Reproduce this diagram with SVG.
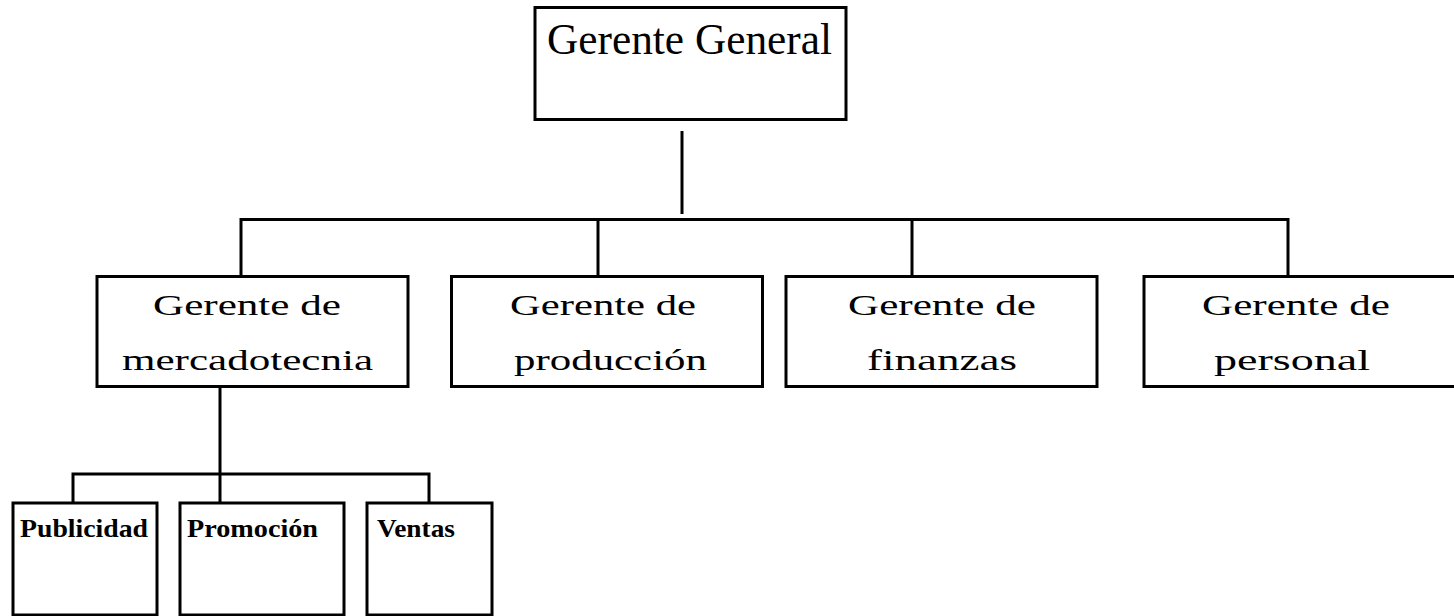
<svg xmlns="http://www.w3.org/2000/svg" width="1454" height="616" viewBox="0 0 1454 616">
<style>
.box{fill:#fff;stroke:#000;stroke-width:3}
.ln{stroke:#000;stroke-width:3;fill:none}
text{font-family:"Liberation Serif","Times New Roman",serif;fill:#000}
.t1{font-size:44px}
.t2{font-size:30px}
.t3{font-size:26px;font-weight:bold}
</style>
<rect width="1454" height="616" fill="#fff"/>
<g id="connectors">
<line class="ln" x1="682" y1="131" x2="682" y2="214"/>
<polyline class="ln" points="241,277 241,219.5 1288,219.5 1288,277"/>
<line class="ln" x1="598" y1="219.5" x2="598" y2="277"/>
<line class="ln" x1="912" y1="219.5" x2="912" y2="277"/>
<line class="ln" x1="220" y1="387" x2="220" y2="503"/>
<polyline class="ln" points="73,503 73,474 429,474 429,503"/>
</g>
<g id="gerente-general">
<rect class="box" x="535" y="7.5" width="311" height="112"/>
<text class="t1" x="547" y="54" textLength="285" lengthAdjust="spacingAndGlyphs">Gerente General</text>
</g>
<g id="gerente-mercadotecnia">
<rect class="box" x="97" y="276.5" width="311" height="110"/>
<text class="t2" x="153" y="315" textLength="188" lengthAdjust="spacingAndGlyphs">Gerente de</text>
<text class="t2" x="122" y="370" textLength="251" lengthAdjust="spacingAndGlyphs">mercadotecnia</text>
</g>
<g id="gerente-produccion">
<rect class="box" x="451.5" y="276.5" width="311" height="110"/>
<text class="t2" x="510" y="315" textLength="186" lengthAdjust="spacingAndGlyphs">Gerente de</text>
<text class="t2" x="514" y="370" textLength="193" lengthAdjust="spacingAndGlyphs">producción</text>
</g>
<g id="gerente-finanzas">
<rect class="box" x="786" y="276.5" width="311" height="110"/>
<text class="t2" x="848" y="315" textLength="188" lengthAdjust="spacingAndGlyphs">Gerente de</text>
<text class="t2" x="867" y="370" textLength="150" lengthAdjust="spacingAndGlyphs">finanzas</text>
</g>
<g id="gerente-personal">
<rect class="box" x="1144" y="276.5" width="320" height="110"/>
<text class="t2" x="1202" y="315" textLength="188" lengthAdjust="spacingAndGlyphs">Gerente de</text>
<text class="t2" x="1214" y="370" textLength="156" lengthAdjust="spacingAndGlyphs">personal</text>
</g>
<g id="publicidad">
<rect class="box" x="13" y="503" width="144" height="112"/>
<text class="t3" x="20" y="537" textLength="128" lengthAdjust="spacingAndGlyphs">Publicidad</text>
</g>
<g id="promocion">
<rect class="box" x="180" y="503" width="164" height="112"/>
<text class="t3" x="187" y="537" textLength="131" lengthAdjust="spacingAndGlyphs">Promoción</text>
</g>
<g id="ventas">
<rect class="box" x="367" y="503" width="125" height="112"/>
<text class="t3" x="377" y="537" textLength="78" lengthAdjust="spacingAndGlyphs">Ventas</text>
</g>
</svg>
